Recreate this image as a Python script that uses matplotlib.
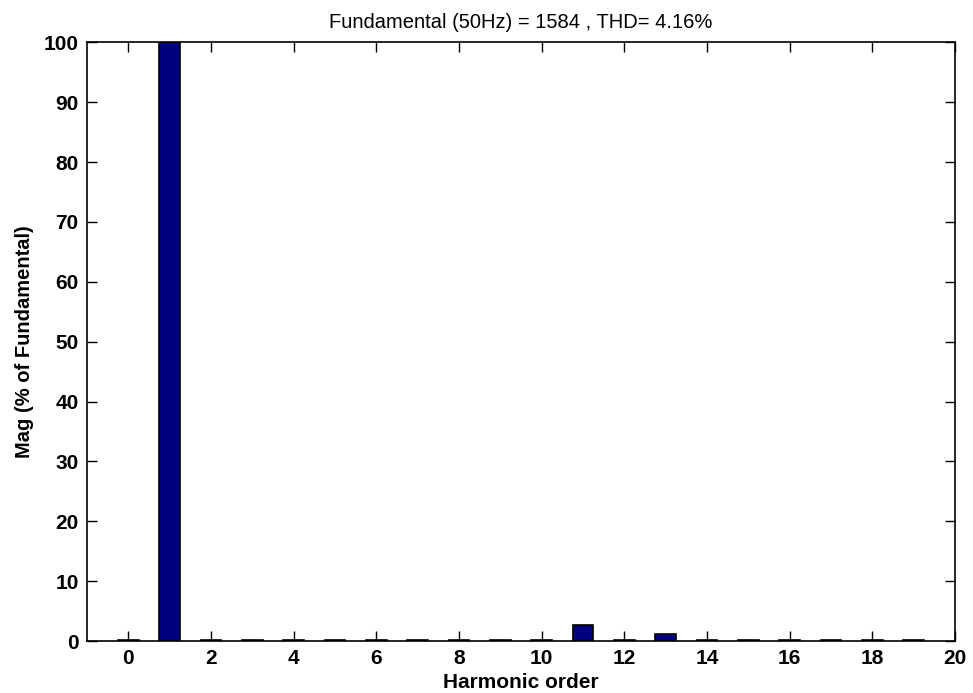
import numpy as np
import matplotlib.pyplot as plt

plt.rcParams['font.family'] = ['Liberation Sans', 'DejaVu Sans']

# harmonic spectrum, magnitude in % of fundamental
orders = np.arange(0, 20)
mags = [0.15, 100, 0.2, 0.15, 0.2, 0.15, 0.2, 0.15, 0.2, 0.15,
        0.2, 2.6, 0.2, 1.1, 0.2, 0.15, 0.2, 0.15, 0.2, 0.15]
fundamental = 1584
thd = 4.16

fig = plt.figure(figsize=(9.73, 6.93), dpi=100)
ax = fig.add_axes([0.0894, 0.075, 0.8921, 0.864])

ax.bar(orders, mags, width=0.5, color='#000080', edgecolor='black', linewidth=1.2)

ax.set_xlim(-1, 20)
ax.set_ylim(0, 100)
ax.set_xticks(np.arange(0, 21, 2))
ax.set_yticks(np.arange(0, 101, 10))
ax.tick_params(direction='in', top=True, right=True, length=7, width=1,
               labelsize=15, pad=6)
for lbl in ax.get_xticklabels() + ax.get_yticklabels():
    lbl.set_fontweight('bold')
for s in ax.spines.values():
    s.set_linewidth(1.2)

ax.set_title(f'Fundamental (50Hz) = {fundamental} , THD= {thd:.2f}%',
             fontsize=14.5, pad=10)
ax.set_xlabel('Harmonic order', fontsize=15, fontweight='bold', labelpad=3)
ax.set_ylabel('Mag (% of Fundamental)', fontsize=14.5, fontweight='bold',
              labelpad=7)

fig.savefig('out.png', dpi=100)
